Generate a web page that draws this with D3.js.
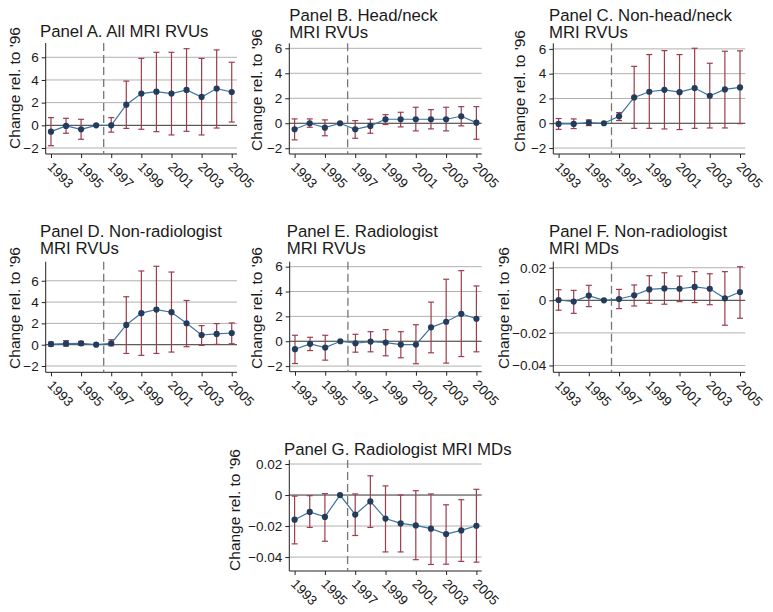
<!DOCTYPE html>
<html><head><meta charset="utf-8">
<script src="https://cdn.jsdelivr.net/npm/d3@7"></script>
<style>
body{margin:0;background:#fff}
svg{display:block}
text{font-family:"Liberation Sans",Arial,Helvetica,sans-serif;fill:#1a1a1a}
</style>
</head><body>
<svg id="c" width="773" height="612"></svg>
<script>
// ---------- data ----------
const years = [1993,1994,1995,1996,1997,1998,1999,2000,2001,2002,2003,2004,2005];
const xTickYears = [1993,1995,1997,1999,2001,2003,2005];
const yTicksRVU = [-2,0,2,4,6];
const yTicksMD = [-0.04,-0.02,0,0.02];
const yLabel = "Change rel. to '96";

const titleA = ["Panel A. All MRI RVUs"];
const estA = [-0.56,-0.05,-0.35,0,0.0,1.82,2.80,2.97,2.80,3.12,2.50,3.24,2.94];
const loA  = [-1.80,-0.70,-1.23,null,-0.60,-0.27,-0.35,-0.56,-0.85,-0.53,-0.85,-0.24,0.29];
const hiA  = [0.68,0.62,0.53,null,0.68,3.90,5.90,6.44,6.44,6.76,5.90,6.65,5.56];

const titleB = ["Panel B. Head/neck","MRI RVUs"];
const estB = [-0.48,0.0,-0.35,0,-0.48,-0.21,0.32,0.32,0.32,0.32,0.32,0.56,0.05];
const loB  = [-1.33,-0.32,-1.00,null,-1.20,-0.80,-0.10,-0.29,-0.61,-0.45,-0.61,-0.21,-1.28];
const hiB  = [0.35,0.35,0.27,null,0.21,0.32,0.69,0.88,1.28,1.09,1.28,1.33,1.33];

const titleC = ["Panel C. Non-head/neck","MRI RVUs"];
const estC = [-0.05,-0.05,0.05,0,0.57,2.08,2.54,2.70,2.51,2.84,2.22,2.73,2.89];
const loC  = [-0.49,-0.43,-0.19,null,0.22,-0.41,-0.41,-0.46,-0.51,-0.41,-0.38,-0.38,-0.03];
const hiC  = [0.38,0.35,0.27,null,0.86,4.59,5.54,5.86,5.54,6.05,4.84,5.81,5.84];

const titleD = ["Panel D. Non-radiologist","MRI RVUs"];
const estD = [0.06,0.10,0.13,0,0.13,1.86,2.96,3.30,3.05,2.01,0.91,1.01,1.10];
const loD  = [-0.13,-0.13,-0.06,null,-0.10,-0.82,-1.00,-0.82,-0.69,-0.19,-0.06,0.03,0.09];
const hiD  = [0.25,0.38,0.31,null,0.47,4.50,6.92,7.36,6.82,4.15,1.79,1.98,2.04];

const titleE = ["Panel E. Radiologist","MRI RVUs"];
const estE = [-0.64,-0.21,-0.51,0,-0.16,-0.03,-0.11,-0.27,-0.27,1.12,1.57,2.21,1.81];
const loE  = [-1.79,-0.75,-1.52,null,-0.88,-0.85,-1.17,-1.33,-1.81,-0.93,-1.76,-1.23,-0.85];
const hiE  = [0.48,0.32,0.48,null,0.56,0.77,0.93,0.77,1.33,3.15,4.99,5.68,4.45];

const titleF = ["Panel F. Non-radiologist","MRI MDs"];
const estF = [0.0002,-0.0008,0.0029,0,0.0008,0.0031,0.0067,0.0073,0.0071,0.0082,0.0071,0.0012,0.0051];
const loF  = [-0.0061,-0.0080,-0.0039,null,-0.0051,-0.0035,-0.0018,-0.0024,-0.0008,-0.0014,-0.0027,-0.0153,-0.0110];
const hiF  = [0.0065,0.0061,0.0092,null,0.0067,0.0094,0.0151,0.0169,0.0149,0.0176,0.0163,0.0176,0.0206];

const titleG = ["Panel G. Radiologist MRI MDs"];
const estG = [-0.0159,-0.0109,-0.0141,0,-0.0126,-0.0041,-0.0152,-0.0183,-0.0196,-0.0217,-0.0252,-0.0228,-0.0198];
const loG  = [-0.0315,-0.0209,-0.0298,null,-0.0261,-0.0209,-0.0367,-0.0367,-0.0417,-0.0448,-0.0446,-0.0428,-0.0433];
const hiG  = [-0.0007,-0.0004,0.0009,null,0.0007,0.0124,0.0059,0.0000,0.0028,0.0007,-0.0063,-0.0030,0.0037];

// ---------- layout ----------
const panels = [
  {title:titleA, est:estA, lo:loA, hi:hiA, ticks:yTicksRVU, dom:[-2.53,7.26], L:45.7, R:237, T:43, B:154, tx:40, ty:37.3, lx:15, ly:88},
  {title:titleB, est:estB, lo:loB, hi:hiB, ticks:yTicksRVU, dom:[-2.46,6.40], L:289.3, R:481.7, T:43.3, B:154, tx:289.3, ty:38.3, lx:257, ly:90},
  {title:titleC, est:estC, lo:loC, hi:hiC, ticks:yTicksRVU, dom:[-2.48,6.45], L:553.3, R:745.3, T:43.3, B:154, tx:549, ty:38.3, lx:520, ly:91},
  {title:titleD, est:estD, lo:loD, hi:hiD, ticks:yTicksRVU, dom:[-2.59,7.79], L:45.7, R:237, T:261.7, B:372.3, tx:40, ty:254.3, lx:15, ly:308},
  {title:titleE, est:estE, lo:loE, hi:hiE, ticks:yTicksRVU, dom:[-2.45,6.40], L:289.7, R:481.7, T:261.7, B:371.7, tx:286.7, ty:254.3, lx:257, ly:308},
  {title:titleF, est:estF, lo:loF, hi:hiF, ticks:yTicksMD, dom:[-0.0442,0.0237], L:553.3, R:745.3, T:261.7, B:372.3, tx:549, ty:254.3, lx:504, ly:308},
  {title:titleG, est:estG, lo:loG, hi:hiG, ticks:yTicksMD, dom:[-0.049,0.0226], L:289.3, R:481.7, T:460, B:571, tx:284, ty:455, lx:235, ly:510}
];

const COL_GRID="#b0b0b0", COL_ZERO="#333", COL_AXIS="#222", COL_CI="#9b3d4d", COL_LINE="#3d73a0", COL_PT="#243c5c", COL_VLINE="#777";

const svg = d3.select("#c");
const fmt = v => {
  if (v === 0) return "0";
  const s = Math.abs(v) < 1 ? d3.format(".2f")(Math.abs(v)) : String(Math.abs(v));
  return (v < 0 ? "\u2212" : "") + s;
};

panels.forEach(p => {
  const g = svg.append("g");
  const x = d3.scaleLinear().domain([1992.65, 2005.35]).range([p.L, p.R]);
  const y = d3.scaleLinear().domain(p.dom).range([p.B, p.T]);

  // gridlines
  g.selectAll("line.grid").data(p.ticks.filter(t => t !== 0)).join("line")
    .attr("x1", p.L).attr("x2", p.R).attr("y1", d => y(d)).attr("y2", d => y(d))
    .attr("stroke", COL_GRID).attr("stroke-width", 1);
  // zero line
  g.append("line").attr("x1", p.L).attr("x2", p.R).attr("y1", y(0)).attr("y2", y(0))
    .attr("stroke", COL_ZERO).attr("stroke-width", 1);

  // y axis
  const ya = g.append("g").attr("transform", `translate(${p.L},0)`)
    .call(d3.axisLeft(y).tickValues(p.ticks).tickFormat(fmt).tickSize(4).tickPadding(3));
  ya.select(".domain").attr("d", `M0,${p.T}V${p.B}`).attr("stroke", COL_AXIS);
  ya.selectAll(".tick line").attr("stroke", COL_AXIS);
  ya.selectAll(".tick text").attr("font-size", 13.5).attr("fill", "#1a1a1a")
    .attr("font-family", '"Liberation Sans",Arial,sans-serif');

  // x axis
  const xa = g.append("g").attr("transform", `translate(0,${p.B})`)
    .call(d3.axisBottom(x).tickValues(xTickYears).tickFormat(d3.format("d")).tickSize(4));
  xa.select(".domain").attr("d", `M${p.L},0H${p.R}`).attr("stroke", COL_AXIS);
  xa.selectAll(".tick line").attr("stroke", COL_AXIS);
  xa.selectAll(".tick text").attr("font-size", 13.5).attr("fill", "#1a1a1a")
    .attr("font-family", '"Liberation Sans",Arial,sans-serif')
    .attr("text-anchor", "start").attr("dy", null).attr("y", null)
    .attr("transform", "translate(2,7) rotate(45)").attr("dominant-baseline", "hanging");

  // vertical dashed line at 1996.5
  g.append("line").attr("x1", x(1996.5)).attr("x2", x(1996.5)).attr("y1", p.T).attr("y2", p.B)
    .attr("stroke", COL_VLINE).attr("stroke-width", 1.3).attr("stroke-dasharray", "8,4");

  const rows = years.map((yr, i) => ({yr, e: p.est[i], lo: p.lo[i], hi: p.hi[i]}));
  const ci = rows.filter(r => r.lo !== null);
  // error bars
  g.selectAll("line.ci").data(ci).join("line")
    .attr("x1", d => x(d.yr)).attr("x2", d => x(d.yr)).attr("y1", d => y(d.lo)).attr("y2", d => y(d.hi))
    .attr("stroke", COL_CI).attr("stroke-width", 1.2);
  ["lo","hi"].forEach(k => {
    g.selectAll("line.cap"+k).data(ci).join("line")
      .attr("x1", d => x(d.yr) - 3).attr("x2", d => x(d.yr) + 3)
      .attr("y1", d => y(d[k])).attr("y2", d => y(d[k]))
      .attr("stroke", COL_CI).attr("stroke-width", 1.2);
  });
  // connecting line
  g.append("path").datum(rows)
    .attr("d", d3.line().x(d => x(d.yr)).y(d => y(d.e)))
    .attr("fill", "none").attr("stroke", COL_LINE).attr("stroke-width", 1.2);
  // markers
  g.selectAll("circle").data(rows).join("circle")
    .attr("cx", d => x(d.yr)).attr("cy", d => y(d.e)).attr("r", 3.1)
    .attr("fill", COL_PT);

  // title
  const t = g.append("text").attr("x", p.tx).attr("y", p.ty - (p.title.length - 1) * 17.3)
    .attr("font-size", 16.8);
  p.title.forEach((ln, i) => t.append("tspan").attr("x", p.tx).attr("dy", i === 0 ? 0 : 17.3).text(ln));

  // y label
  g.append("text").attr("transform", `translate(${p.lx + 5},${p.ly}) rotate(-90)`)
    .attr("text-anchor", "middle").attr("font-size", 15.5).text(yLabel);
});
</script>
</body></html>
